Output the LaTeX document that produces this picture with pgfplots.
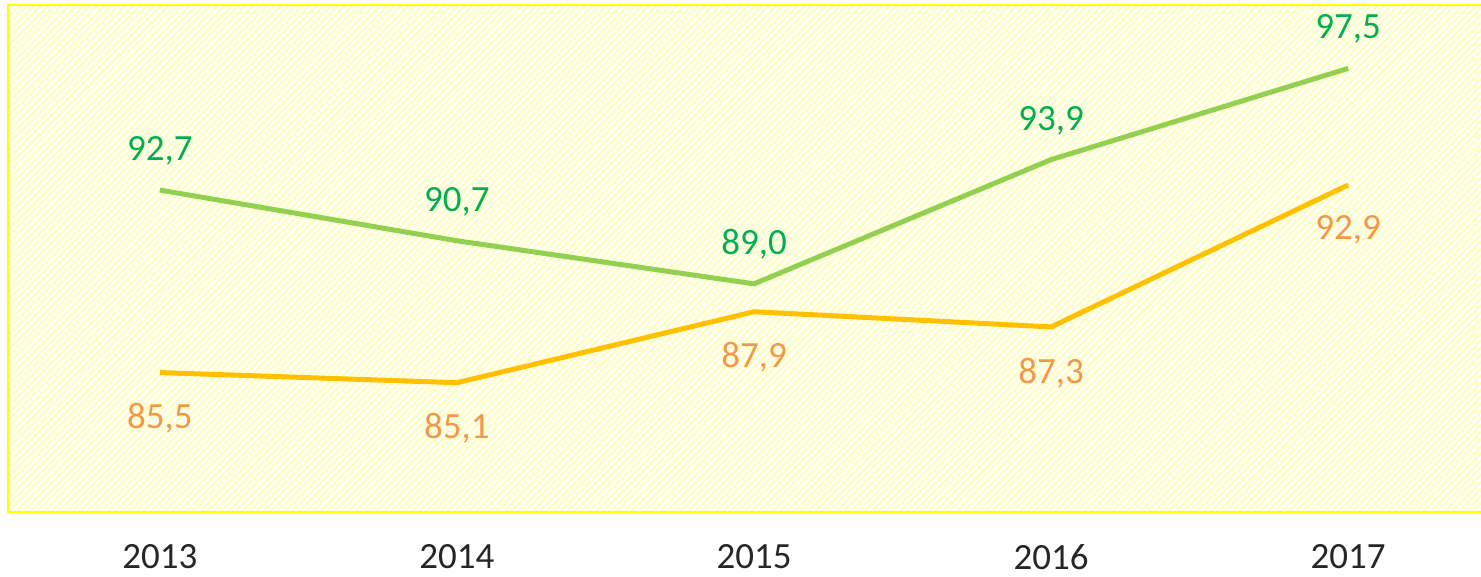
\documentclass[border=0pt]{standalone}
\usepackage{pgfplots}
\pgfplotsset{compat=1.18}
\usepackage{fontspec}
\setmainfont{Carlito}
\usetikzlibrary{patterns.meta}
\definecolor{lgreen}{HTML}{92D050}
\definecolor{dgreen}{HTML}{00B050}
\definecolor{lorange}{HTML}{FFC000}
\definecolor{torange}{HTML}{F79646}
\definecolor{hatch}{HTML}{FFFFBE}
\definecolor{frame}{HTML}{FFFF00}
\begin{document}
\fontsize{18.5pt}{22pt}\selectfont
\begin{tikzpicture}
\begin{axis}[
  scale only axis,
  width=736.5pt, height=253.5pt,
  xmin=2012.489, xmax=2017.447,
  ymin=80, ymax=100,
  axis line style={draw=none},
  axis background/.style={pattern={Lines[angle=45,distance=2.5pt,line width=1.2pt]}, pattern color=hatch},
  xtick={2013,2014,2015,2016,2017},
  xticklabels={2013,2014,2015,2016,2017},
  ytick=\empty,
  major tick length=0pt,
  xticklabel style={font=\fontsize{18.5pt}{22pt}\selectfont, text=black!85, yshift=-10pt},
  clip=false,
  nodes near coords,
  every node near coord/.append style={font=\fontsize{18.5pt}{22pt}\selectfont},
  point meta=explicit symbolic,
]
\addplot[lgreen, line width=2.5pt, no marks,
  every node near coord/.append style={text=dgreen, anchor=south, yshift=5pt}]
  coordinates {(2013,92.7)[92,7] (2014,90.7)[90,7] (2015,89.0)[89,0] (2016,93.9)[93,9] (2017,97.5)[97,5]};
\addplot[lorange, line width=2.5pt, no marks,
  every node near coord/.append style={text=torange, anchor=north, yshift=-8pt}]
  coordinates {(2013,85.5)[85,5] (2014,85.1)[85,1] (2015,87.9)[87,9] (2016,87.3)[87,3] (2017,92.9)[92,9]};
\draw[frame, line width=1pt] (rel axis cs:1,1) -- (rel axis cs:0,1) -- (rel axis cs:0,0) -- (rel axis cs:1,0);
\coordinate (SW) at (rel axis cs:0,0);
\coordinate (NE) at (rel axis cs:1,1);
\end{axis}
\pgfresetboundingbox
\path (SW) ++(-4pt,-32.5pt) coordinate (a);
\path (NE) ++(0,2.5pt) coordinate (b);
\path (a) rectangle (b);
\end{tikzpicture}
\end{document}
